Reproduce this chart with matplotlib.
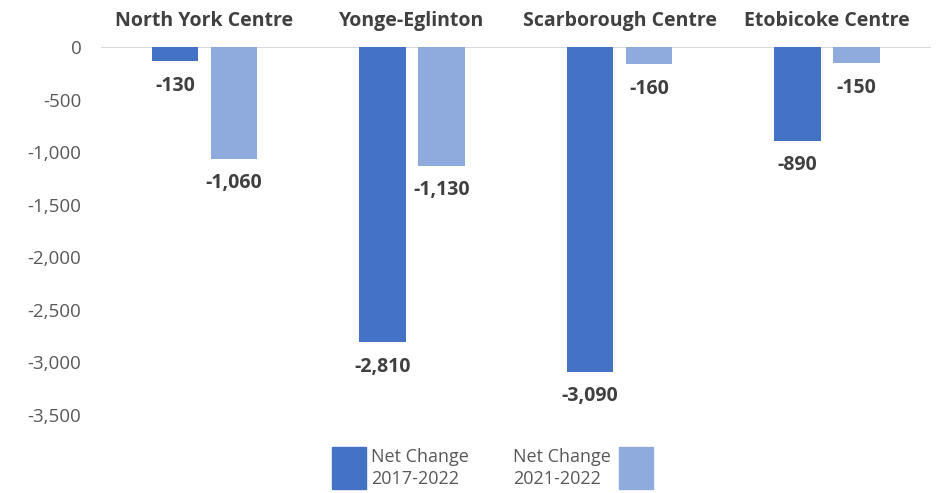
import numpy as np
import matplotlib.pyplot as plt
from matplotlib.patches import Rectangle
from matplotlib.ticker import FuncFormatter

plt.rcParams['font.family'] = ['Open Sans', 'DejaVu Sans']

# data
centres = ['North York Centre', 'Yonge-Eglinton', 'Scarborough Centre', 'Etobicoke Centre']
change_17_22 = [-130, -2810, -3090, -890]
change_21_22 = [-1060, -1130, -160, -150]
series_names = ['Net Change\n2017-2022', 'Net Change\n2021-2022']
y_ticks = [0, -500, -1000, -1500, -2000, -2500, -3000, -3500]

dark = '#4472C4'
light = '#8FAADC'
label_col = '#404040'
tick_col = '#595959'

fig = plt.figure(figsize=(9.37, 4.93), dpi=100)
ax = fig.add_axes([0.1075, 0.159, 0.886, 0.745])

x = np.arange(len(centres))
w = 0.224
off = 0.142
bars1 = ax.bar(x - off, change_17_22, w, color=dark)
bars2 = ax.bar(x + off, change_21_22, w, color=light)

# value labels under the bar ends
for bars in (bars1, bars2):
    for b in bars:
        v = b.get_height()
        ax.annotate(f'{v:,.0f}', (b.get_x() + b.get_width() / 2, v),
                    xytext=(0, -10.5), textcoords='offset points',
                    ha='center', va='top', fontsize=14, fontweight='bold',
                    color=label_col)

ax.set_xlim(-0.5, len(centres) - 0.5)
ax.set_ylim(-3500, 0)
ax.axhline(0, color='#D9D9D9', lw=1.5, zorder=0)
for s in ax.spines.values():
    s.set_visible(False)

ax.set_yticks(y_ticks)
ax.yaxis.set_major_formatter(FuncFormatter(lambda v, p: f'{v:,.0f}'))
ax.tick_params(axis='y', length=0, pad=14, labelsize=13.5, labelcolor=tick_col)

ax.set_xticks(x)
ax.set_xticklabels(centres, fontweight='bold')
ax.xaxis.tick_top()
ax.tick_params(axis='x', length=0, pad=12, labelsize=14, labelcolor=label_col)

# legend drawn by hand: patch, text, text, patch
W, H = 937, 493
def fx(px):
    return px / W
def fy(py):
    return 1 - py / H

fig.add_artist(Rectangle((fx(332), fy(489)), fx(366) - fx(332), fy(447) - fy(489),
                         transform=fig.transFigure, color=dark))
fig.add_artist(Rectangle((fx(619), fy(489)), fx(653) - fx(619), fy(447) - fy(489),
                         transform=fig.transFigure, color=light))
fig.text(fx(371), fy(468), series_names[0], ha='left', va='center',
         fontsize=13, color=tick_col, linespacing=1.25)
fig.text(fx(513), fy(468), series_names[1], ha='left', va='center',
         fontsize=13, color=tick_col, linespacing=1.25)

fig.savefig('out.png', dpi=100)
